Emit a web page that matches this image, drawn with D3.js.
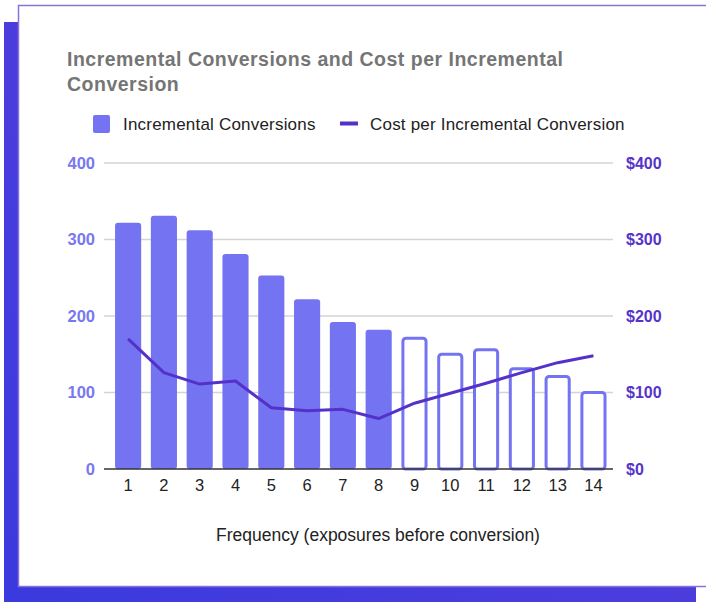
<!DOCTYPE html>
<html>
<head>
<meta charset="utf-8">
<script src="https://d3js.org/d3.v7.min.js"></script>
<style>
  body { margin: 0; background: #fff; }
  text { font-family: "Liberation Sans", Arial, sans-serif; }
</style>
</head>
<body>
<script>
// chart data
var frequencies = [1, 2, 3, 4, 5, 6, 7, 8, 9, 10, 11, 12, 13, 14]
var conversions = [322, 331, 312, 281, 253, 222, 192, 182, 173, 152, 158, 133, 123, 102]
var costPerConv = [170, 126, 111, 115, 80, 76, 78, 66, 86, 99, 112, 126, 139, 148]
var hollowFrom = 9   // bars from this frequency on are drawn as outlines
var leftTicks = [0, 100, 200, 300, 400]
var rightTicks = [0, 100, 200, 300, 400]

var w = 706, h = 602
var barColor = '#7474f2', lineColor = '#5431c9'

var svg = d3.select('body').append('svg').attr('width', w).attr('height', h)

// card background with the purple block behind it
var grad = svg.append('defs').append('linearGradient').attr('id', 'pg')
  .attr('x1', '0%').attr('y1', '100%').attr('x2', '100%').attr('y2', '0%')
grad.append('stop').attr('offset', '0%').attr('stop-color', '#3a3ade')
grad.append('stop').attr('offset', '100%').attr('stop-color', '#5d3fdc')

svg.append('rect').attr('x', 4).attr('y', 22).attr('width', 692).attr('height', 600)
  .attr('fill', 'url(#pg)')
svg.append('rect').attr('x', 18.5).attr('y', 5.5).attr('width', 700).attr('height', 581)
  .attr('fill', '#fff').attr('stroke', '#8a72dc').attr('stroke-width', 1.5)

// title
var title = svg.append('text').attr('x', 67).attr('y', 66)
  .attr('fill', '#757575').attr('font-size', 19.5).attr('font-weight', 'bold')
  .attr('letter-spacing', 0.5)
title.append('tspan').attr('x', 67).text('Incremental Conversions and Cost per Incremental')
title.append('tspan').attr('x', 67).attr('dy', 25).text('Conversion')

// legend
var legend = svg.append('g')
legend.append('rect').attr('x', 93).attr('y', 115).attr('width', 17).attr('height', 18)
  .attr('rx', 2).attr('fill', barColor)
legend.append('text').attr('x', 123).attr('y', 130).attr('font-size', 17).attr('fill', '#222')
  .attr('letter-spacing', 0.2).text('Incremental Conversions')
legend.append('rect').attr('x', 340).attr('y', 121.5).attr('width', 18).attr('height', 4)
  .attr('fill', lineColor)
legend.append('text').attr('x', 370).attr('y', 130).attr('font-size', 17).attr('fill', '#222')
  .attr('letter-spacing', 0.2).text('Cost per Incremental Conversion')

// scales
var x = d3.scaleBand().domain(frequencies).range([104, 613])
  .paddingInner(0.27).paddingOuter(0.245).align(0.63)
var yL = d3.scaleLinear().domain([0, 400]).range([469, 163])
var yR = d3.scaleLinear().domain([0, 400]).range([469, 163])

// gridlines
svg.append('g').selectAll('line').data(leftTicks.slice(1)).enter().append('line')
  .attr('x1', 104).attr('x2', 613)
  .attr('y1', function(d) { return yL(d) }).attr('y2', function(d) { return yL(d) })
  .attr('stroke', '#d4d4d4').attr('stroke-width', 1.5)

// left axis labels
var axL = svg.append('g').attr('transform', 'translate(104,0)')
  .call(d3.axisLeft(yL).tickValues(leftTicks).tickSize(0).tickPadding(9))
axL.select('.domain').remove()
axL.selectAll('text').attr('font-size', 16.5).attr('font-weight', 'bold')
  .attr('fill', '#7878f0').attr('font-family', '"Liberation Sans", Arial, sans-serif')

// right axis labels
var axR = svg.append('g').attr('transform', 'translate(613,0)')
  .call(d3.axisRight(yR).tickValues(rightTicks).tickSize(0).tickPadding(13)
    .tickFormat(function(d) { return '$' + d }))
axR.select('.domain').remove()
axR.selectAll('text').attr('font-size', 16).attr('font-weight', 'bold')
  .attr('fill', '#5634c8').attr('font-family', '"Liberation Sans", Arial, sans-serif')

// bars
svg.append('g').selectAll('rect').data(frequencies).enter().append('rect')
  .attr('x', function(d) { return d >= hollowFrom ? x(d) + 1.5 : x(d) })
  .attr('width', function(d) { return d >= hollowFrom ? x.bandwidth() - 3 : x.bandwidth() })
  .attr('y', function(d, i) { return d >= hollowFrom ? yL(conversions[i]) + 1.5 : yL(conversions[i]) })
  .attr('height', function(d, i) { return yL(0) - yL(conversions[i]) - (d >= hollowFrom ? 1.5 : 0) })
  .attr('rx', 3)
  .attr('fill', function(d) { return d >= hollowFrom ? '#fff' : barColor })
  .attr('stroke', function(d) { return d >= hollowFrom ? barColor : 'none' })
  .attr('stroke-width', 3)

// x axis
var axX = svg.append('g').attr('transform', 'translate(0,469)')
  .call(d3.axisBottom(x).tickSize(0).tickPadding(10))
axX.select('.domain').attr('d', 'M104,0H613').attr('stroke', '#333').attr('stroke-width', 1.5)
axX.selectAll('text').attr('font-size', 16.5).attr('fill', '#222')
  .attr('font-family', '"Liberation Sans", Arial, sans-serif')

svg.append('text').attr('x', 378).attr('y', 541).attr('text-anchor', 'middle')
  .attr('font-size', 17.5).attr('fill', '#222')
  .text('Frequency (exposures before conversion)')

// cost line
var line = d3.line()
  .x(function(d, i) { return x(frequencies[i]) + x.bandwidth() / 2 })
  .y(function(d) { return yR(d) })
svg.append('path').datum(costPerConv).attr('d', line)
  .attr('fill', 'none').attr('stroke', lineColor).attr('stroke-width', 3)
  .attr('stroke-linejoin', 'round')
</script>
</body>
</html>
